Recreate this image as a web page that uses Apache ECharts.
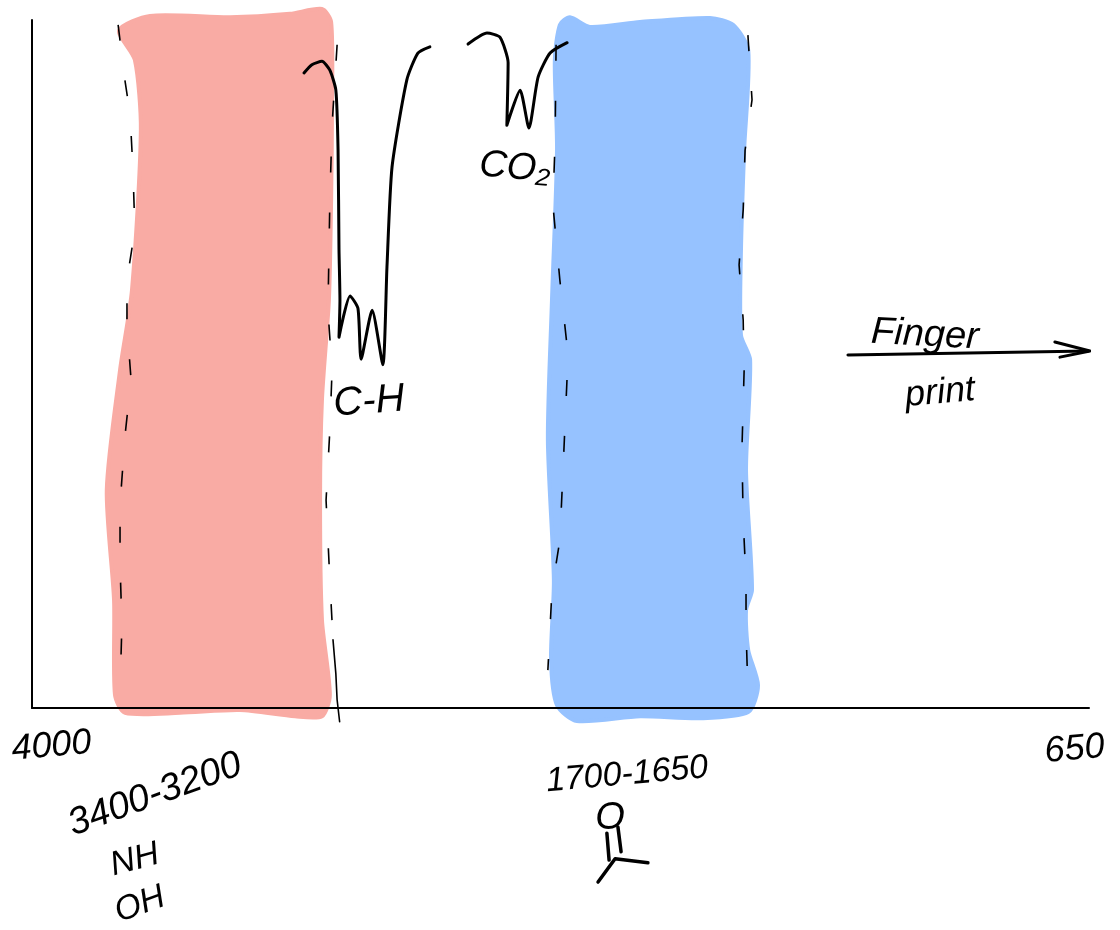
<!DOCTYPE html>
<html>
<head>
<meta charset="utf-8">
<style>html,body{margin:0;padding:0;background:#fff}#c{width:1120px;height:930px}</style>
<script src="https://cdn.jsdelivr.net/npm/echarts@6/dist/echarts.min.js"></script>
</head>
<body>
<div id="c"></div>
<script>
// Axis: wavenumber (cm-1), intensity (%T)
const tickLabels = [4000, 650];

// Highlighted bands, outline as [wavenumber, %T]
const nhOhBand = [[3724,98.5],[3626,100.6],[3372,100.4],[3182,100.9],[3081,101.6],[3052,99.7],[3049,88.4],[3052,73.8],[3059,59.3],[3081,44.8],[3087,30.2],[3081,12.8],[3056,1.9],[3081,-1.2],[3166,-1.2],[3341,-0.3],[3531,-0.7],[3705,-0.7],[3737,1.9],[3740,15.7],[3763,31.7],[3721,49.1],[3683,60.8],[3655,84],[3674,94.2]];
const carbonylBand = [[2327,99.3],[2295,100.4],[2232,99],[2073,99.7],[1851,100.3],[1778,99.3],[1730,95.6],[1743,81.1],[1753,66.6],[1753,54.2],[1724,50.6],[1737,34.6],[1718,17.2],[1737,14.2],[1730,8.4],[1699,3.3],[1730,-0.6],[1883,-1.5],[2073,-1.2],[2273,-1.9],[2336,0.4],[2355,7],[2346,18.6],[2365,39],[2352,59.3],[2336,81.1],[2343,94.2]];

// Spectrum trace; null is the pen lift between the two strokes
const spectrum = [[3138,92.3],[3113,93.5],[3081,94],[3056,92.7],[3037,89.8],[3030,81.1],[3027,66.6],[3024,59.3],[3027,53.9],[2992,59.9],[2967,58.1],[2957,50.7],[2922,57.8],[2888,49.9],[2875,64.1],[2859,78.6],[2812,91.3],[2777,95.2],[2739,96.1],[null,null],[2618,96.5],[2558,98.1],[2517,97.5],[2491,93.8],[2495,84.7],[2453,89.8],[2425,84.3],[2396,91.7],[2358,95.2],[2304,96.7]];

// Dashed guides on the band edges
const guideA = [[3727,99.3],[3708,92],[3689,86.2],[3680,78.2],[3674,69.5],[3699,62.2],[3699,55.7],[3686,47.7],[3705,39.7],[3721,29.5],[3721,20.8],[3715,12.1],[3721,2.6]];
const guideB = [[3033,96.4],[3049,84.7],[3056,73.8],[3062,57.8],[3049,49.1],[3056,40.4],[3068,30.2],[3056,18.6],[3046,9.9]];
const guideBTail = [[3046,9.9],[3037,5],[3033,1.2],[3025,-2]];
const guideC = [[2339,96.4],[2342,82.6],[2349,73.1],[2327,62.2],[2301,51.3],[2308,44],[2317,34.6],[2327,24.4],[2352,17.2],[2365,5.5]];
const guideD = [[1731,97.8],[1718,88.4],[1740,81.1],[1746,72.4],[1759,64.4],[1746,56.4],[1743,49.1],[1750,37.5],[1746,27.3],[1737,18.6],[1737,11.3],[1731,2.6]];

// Fingerprint arrow and carbonyl sketch
const arrowShaft = [[1414,51.3],[653,51.9]];
const arrowHead = [[758,53.2],[647,51.9],[742,51]];
const bondA = [[2178,-18.2],[2171,-22.1]];
const bondB = [[2143,-17.3],[2133,-20.9]];
const branches = [[2206,-25.3],[2152,-21.9],[2048,-22.5]];

// Annotations
const noteTexts = ['3400-3200','NH','OH','C-H','CO\u2082','1700-1650','O','Finger','print'];
const notePoints = [[3610,-12.6],[3674,-22.1],[3658,-28.6],[2932,44.5],[2469,78.5],[2114,-9.7],[2168,-16],[1170,54.2],[1122,45.8]];
const noteAngles = [20,15,20,4,-5,5,0,-3,5];
const noteSizes = [38,34,34,40,38,34,38,38,36];

const FONT = '"Liberation Sans"';
const bandSeries = (pts, color) => ({
  type: 'custom', silent: true, z: 1, data: pts,
  coordinateSystem: 'cartesian2d',
  renderItem: (params, api) => params.dataIndex !== 0 ? null : ({
    type: 'polygon',
    shape: { points: pts.map(p => api.coord(p)), smooth: 0.25 },
    style: { fill: color, stroke: color, lineWidth: 4, lineJoin: 'round' }
  })
});
const stroke = (pts, width, extra) => Object.assign({
  type: 'line', data: pts, symbol: 'none', silent: true, clip: false, z: 3,
  connectNulls: false,
  lineStyle: { color: '#000', width: width, cap: 'round', join: 'round' }
}, extra || {});
const guide = pts => {
  const s = stroke(pts, 1.6);
  s.lineStyle.type = [16, 40];
  s.lineStyle.cap = 'butt';
  return s;
};

const chart = echarts.init(document.getElementById('c'), null, { renderer: 'canvas' });
chart.setOption({
  animation: false,
  backgroundColor: '#fff',
  grid: { left: 32, right: 31, top: 20, bottom: 222 },
  xAxis: {
    type: 'value', inverse: true, min: 650, max: 4000, z: 10,
    splitLine: { show: false }, axisTick: { show: false },
    axisLine: { onZero: false, lineStyle: { color: '#000', width: 2 } },
    axisLabel: {
      customValues: tickLabels, margin: 22, rotate: 5, align: 'center', verticalAlign: 'top',
      fontFamily: FONT, fontStyle: 'italic', fontSize: 36, color: '#000',
      formatter: v => v === tickLabels[0] ? '{a|' + v + '}' : '{b|' + v + '}',
      rich: {
        a: { fontFamily: FONT, fontStyle: 'italic', fontSize: 36, color: '#000', padding: [0, 0, 0, 36] },
        b: { fontFamily: FONT, fontStyle: 'italic', fontSize: 36, color: '#000', padding: [0, 32, 0, 0] }
      }
    }
  },
  yAxis: {
    type: 'value', min: 0, max: 100, z: 10,
    splitLine: { show: false }, axisTick: { show: false }, axisLabel: { show: false },
    axisLine: { show: true, onZero: false, lineStyle: { color: '#000', width: 2 } }
  },
  series: [
    bandSeries(nhOhBand, '#F9ABA4'),
    bandSeries(carbonylBand, '#96C2FF'),
    stroke(spectrum, 3, { smooth: 0.2 }),
    guide(guideA), guide(guideB), guide(guideC), guide(guideD),
    stroke(guideBTail, 1.6),
    stroke(arrowShaft, 3), stroke(arrowHead, 3),
    stroke(bondA, 3.5), stroke(bondB, 3.5), stroke(branches, 3.5),
    {
      type: 'scatter', silent: true, symbolSize: 0, clip: false, z: 5,
      itemStyle: { opacity: 1 },
      data: noteTexts.map((t, i) => ({
        value: notePoints[i], name: t,
        label: {
          show: true, position: 'inside', align: 'center', verticalAlign: 'middle',
          fontFamily: FONT, fontStyle: 'italic', color: '#000', textBorderWidth: 0,
          rotate: noteAngles[i], fontSize: noteSizes[i], formatter: t
        }
      }))
    }
  ]
});
</script>
</body>
</html>
